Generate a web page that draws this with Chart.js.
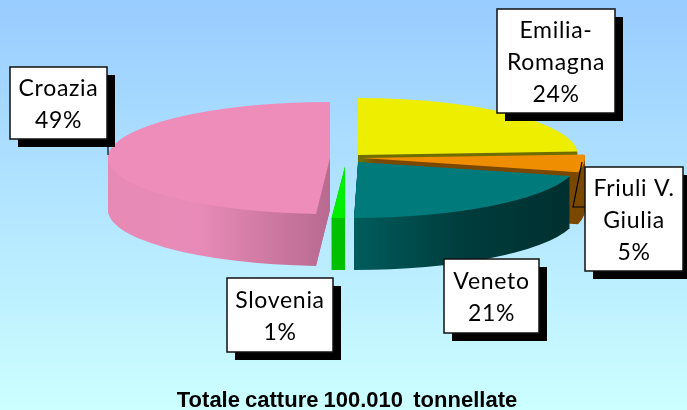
<!DOCTYPE html>
<html><head><meta charset="utf-8">
<script src="https://cdn.jsdelivr.net/npm/chart.js@4"></script>
<style>
html,body{margin:0;padding:0;width:687px;height:410px;overflow:hidden;background:linear-gradient(#99ccff,#ccffff);}
canvas{display:block}
</style></head><body><canvas id="c" width="687" height="410"></canvas>
<script>
const categories=["Emilia-Romagna","Friuli V. Giulia","Veneto","Slovenia","Croazia"];
const values=[24,5,21,1,49];
const labelLines=[["Emilia-","Romagna","24%"],["Friuli V.","Giulia","5%"],["Veneto","21%"],["Slovenia","1%"],["Croazia","49%"]];
const topColors=["#eeee00","#ee8e00","#007a7a","#00ee00","#ee8cba"];
const sideStops=[
 [[0,"#6e6e00"],[1,"#6e6e00"]],
 [[0,"#7a4800"],[1,"#7a4800"]],
 [[0.5,"#005c5c"],[0.75,"#003c3c"],[1,"#002f2f"]],
 [[0,"#00c000"],[1,"#00c000"]],
 [[0,"#e68ab4"],[0.2,"#e88bb8"],[0.5,"#b86a90"],[1,"#b86a90"]]
];
const geom=[
 {cx:358,cy:155,a:220,b:57,s:0},
 {cx:362,cy:158,a:223,b:57,s:0},
 {cx:358,cy:162,a:220,b:56,s:-4},
 {cx:345,cy:166,a:215,b:52,s:0},
 {cx:330,cy:158,a:222,b:56,s:0}
];
const depth=52;
const boxes=[[497,9,615,113],[585,167,683,271],[444,259,539,333],[227,278,333,352],[10,67,107,139]];
const leaders=[[[108,146],[108,155]],[[582,162],[573,207],[586,207]]];
const title="Totale catture 100.010  tonnellate";

const pie3d={id:'pie3d',
 beforeDraw(chart){ chart.ctx.wordSpacing="-1px"; },
 beforeDatasetsDraw(chart){
  const ctx=chart.ctx, meta=chart.getDatasetMeta(0);
  meta.data.forEach((arc,i)=>{
   const g=geom[i], r=arc.outerRadius, px=arc.x, py=arc.y;
   const paint=(el,dy)=>{
     ctx.save();
     ctx.translate(0,dy);
     ctx.transform(g.a/r,0,g.s/r,g.b/r,g.cx-g.a/r*px-g.s/r*py,g.cy-g.b/r*py);
     el.draw(ctx);
     ctx.restore();
   };
   const grad=ctx.createLinearGradient(px-r,0,px+r,0);
   sideStops[i].forEach(s=>grad.addColorStop(s[0],s[1]));
   const side=Object.create(arc);
   side.options=Object.create(arc.options,{backgroundColor:{value:grad}});
   for(let d=depth;d>=1;d--) paint(side,d);
   paint(arc,0);
  });
  return false;
 },
 afterDraw(chart){
  const ctx=chart.ctx;
  ctx.save();
  ctx.wordSpacing="0px";
  ctx.strokeStyle="#000";ctx.lineWidth=1.2;
  leaders.forEach(l=>{ctx.beginPath();l.forEach((p,j)=>j?ctx.lineTo(p[0],p[1]):ctx.moveTo(p[0],p[1]));ctx.stroke();});
  boxes.forEach((b,i)=>{
   const [x0,y0,x1,y1]=b;
   ctx.fillStyle="#000";ctx.fillRect(x0+8,y0+8,x1-x0,y1-y0);
   ctx.fillStyle="#fff";ctx.fillRect(x0,y0,x1-x0,y1-y0);
   ctx.strokeStyle="#111";ctx.lineWidth=1.5;ctx.strokeRect(x0,y0,x1-x0,y1-y0);
   ctx.fillStyle="#000";ctx.textAlign="center";ctx.textBaseline="middle";
   ctx.font='23px Lato';
   ctx.letterSpacing="0.7px";
   const lines=labelLines[i],h=32,mid=(y0+y1)/2+2;
   lines.forEach((t,j)=>ctx.fillText(t,(x0+x1)/2,mid+(j-(lines.length-1)/2)*h));
  });
  ctx.restore();
 }
};
new Chart(document.getElementById('c'),{
 type:'pie',
 data:{labels:categories,datasets:[{data:values,backgroundColor:topColors,borderWidth:0}]},
 options:{responsive:false,animation:false,layout:{padding:{left:7}},
  plugins:{legend:{display:false},tooltip:{enabled:false},
   title:{display:true,text:title,position:'bottom',color:'#000',padding:{top:0,bottom:0},
     font:{family:'Liberation Sans',size:22,weight:'bold',lineHeight:0.85}}}},
 plugins:[pie3d]
});
</script></body></html>
